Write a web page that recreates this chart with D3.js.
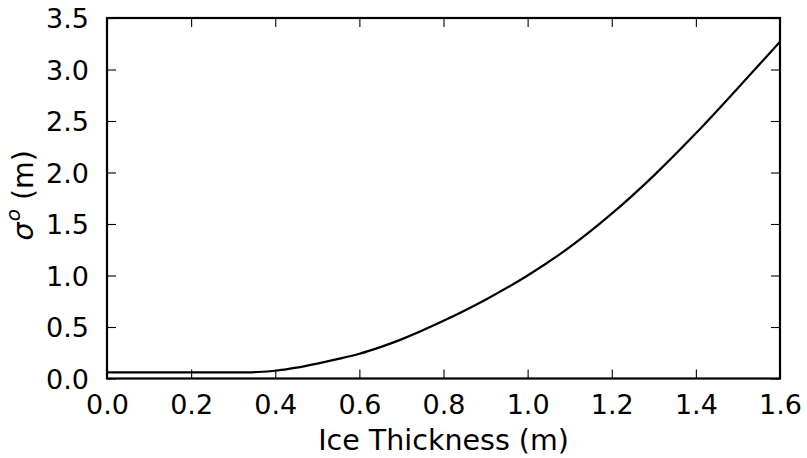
<!DOCTYPE html>
<html>
<head>
<meta charset="utf-8">
<script src="https://cdn.jsdelivr.net/npm/d3@7"></script>
<style>
  html, body { margin: 0; padding: 0; background: #fff; }
  text { font-family: "DejaVu Sans", sans-serif; fill: #000; }
</style>
</head>
<body>
<svg id="chart" width="807" height="458"></svg>
<script>
// Ice thickness (m) and the corresponding sigma^o (m)
const thickness = [0.0, 0.1, 0.2, 0.3, 0.33, 0.36, 0.4, 0.45, 0.5, 0.55, 0.6, 0.65, 0.7, 0.8, 0.9, 1.0, 1.1, 1.2, 1.3, 1.4, 1.5, 1.6];
const sigmaO    = [0.06, 0.06, 0.06, 0.06, 0.06, 0.063, 0.075, 0.105, 0.145, 0.19, 0.24, 0.305, 0.38, 0.56, 0.765, 1.000, 1.275, 1.600, 1.970, 2.380, 2.820, 3.270];

const xTicks = [0.0, 0.2, 0.4, 0.6, 0.8, 1.0, 1.2, 1.4, 1.6];
const yTicks = [0.0, 0.5, 1.0, 1.5, 2.0, 2.5, 3.0, 3.5];

const xLabel = "Ice Thickness (m)";

const svg = d3.select("#chart");
const margin = { left: 107, right: 27, top: 18, bottom: 79.5 };
const W = 807, H = 458;
const plotW = W - margin.left - margin.right;
const plotH = H - margin.top - margin.bottom;

const x = d3.scaleLinear().domain([0, 1.6]).range([0, plotW]);
const y = d3.scaleLinear().domain([0, 3.5]).range([plotH, 0]);

const g = svg.append("g").attr("transform", `translate(${margin.left},${margin.top})`);

const fmt = d3.format(".1f");
const fontSize = 27;
const labelSize = 28.5;
const tickLen = 9;

// bottom axis: inward ticks with labels below
const xAxis = d3.axisBottom(x).tickValues(xTicks).tickFormat(fmt).tickSizeInner(-tickLen).tickSizeOuter(0).tickPadding(tickLen + 7);
const gx = g.append("g").attr("transform", `translate(0,${plotH})`).call(xAxis);
// top axis: ticks only
const gxt = g.append("g").call(d3.axisTop(x).tickValues(xTicks).tickFormat("").tickSizeInner(-tickLen).tickSizeOuter(0));
// left axis with labels
const yAxis = d3.axisLeft(y).tickValues(yTicks).tickFormat(fmt).tickSizeInner(-tickLen).tickSizeOuter(0).tickPadding(tickLen + 9);
const gy = g.append("g").call(yAxis);
// right axis: ticks only
const gyr = g.append("g").attr("transform", `translate(${plotW},0)`).call(d3.axisRight(y).tickValues(yTicks).tickFormat("").tickSizeInner(-tickLen).tickSizeOuter(0));

[gx, gxt, gy, gyr].forEach(a => {
  a.select(".domain").remove();
  a.selectAll(".tick line").attr("stroke", "#000").attr("stroke-width", 1.1);
  a.selectAll(".tick text").style("font-size", fontSize + "px").attr("fill", "#000");
});
gx.selectAll(".tick text").attr("dy", "0.71em");
gy.selectAll(".tick text").attr("dy", "0.36em");

// data line
const line = d3.line()
  .x((d, i) => x(thickness[i]))
  .y(d => y(d))
  .curve(d3.curveMonotoneX);

g.append("path")
  .datum(sigmaO)
  .attr("fill", "none")
  .attr("stroke", "#000")
  .attr("stroke-width", 2.2)
  .attr("d", line);

// frame
g.append("rect")
  .attr("x", 0).attr("y", 0)
  .attr("width", plotW).attr("height", plotH)
  .attr("fill", "none")
  .attr("stroke", "#000")
  .attr("stroke-width", 2.2);

// axis labels
svg.append("text")
  .attr("x", margin.left + plotW / 2)
  .attr("y", 450)
  .attr("text-anchor", "middle")
  .style("font-size", labelSize + "px")
  .text(xLabel);

const yl = svg.append("text")
  .attr("transform", `translate(33,${margin.top + plotH / 2 - 3}) rotate(-90)`)
  .attr("text-anchor", "middle")
  .style("font-size", labelSize + "px");
yl.append("tspan").style("font-style", "italic").text("σ");
yl.append("tspan").style("font-style", "italic").style("font-size", (labelSize * 0.7) + "px").attr("dx", 1).attr("dy", -13).text("o");
yl.append("tspan").attr("dy", 13).text(" (m)");
</script>
</body>
</html>
